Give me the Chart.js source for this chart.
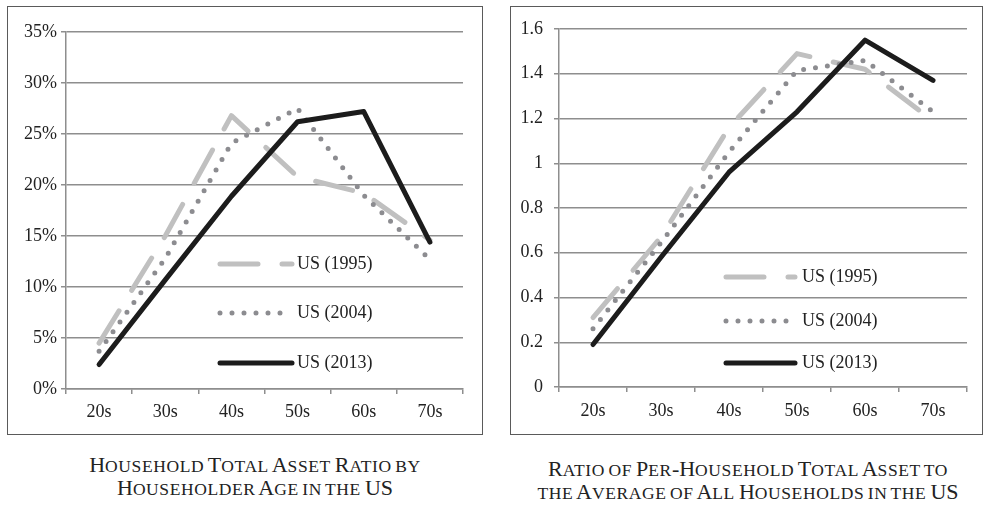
<!DOCTYPE html>
<html>
<head>
<meta charset="utf-8">
<script src="https://cdn.jsdelivr.net/npm/chart.js@4.4.1/dist/chart.umd.min.js"></script>
<style>
  html, body { margin: 0; padding: 0; background: #fff; }
  body { width: 986px; height: 505px; position: relative; overflow: hidden; }
  canvas { position: absolute; }
  .box { position: absolute; box-sizing: border-box; border: 1px solid #5a5a5a; pointer-events: none; }
  .caption {
    position: absolute; width: 500px; text-align: center; white-space: nowrap;
    font-family: "Liberation Serif", serif; font-size: 22px; line-height: 23px; color: #222;
    word-spacing: -1.5px;
  }
  /* small capitals, a little wider than scaled capitals like a real SC face */
  .sc { font-size: 17.5px; line-height: 1; text-transform: uppercase; letter-spacing: 0.6px; }
</style>
</head>
<body>
<canvas id="left" width="476" height="429" style="left:7px;top:6px"></canvas>
<div class="box" style="left:7px;top:6px;width:476px;height:429px"></div>
<canvas id="right" width="472" height="429" style="left:510px;top:6px"></canvas>
<div class="box" style="left:510px;top:6px;width:473px;height:429px"></div>

<div class="caption" style="left:5px;top:453px">H<span class="sc">ousehold</span> T<span class="sc">otal</span> A<span class="sc">sset</span> R<span class="sc">atio by</span><br>H<span class="sc">ouseholder</span> A<span class="sc">ge in the</span> US</div>
<div class="caption" style="left:498px;top:457px">R<span class="sc">atio of</span> P<span class="sc">er</span>-H<span class="sc">ousehold</span> T<span class="sc">otal</span> A<span class="sc">sset to</span><br><span class="sc">the</span> A<span class="sc">verage of</span> A<span class="sc">ll</span> H<span class="sc">ouseholds in the</span> US</div>

<script>
const ageGroups = ['20s', '30s', '40s', '50s', '60s', '70s'];
const seriesNames = ['US (1995)', 'US (2004)', 'US (2013)'];

// left chart: share of total assets held, %
const shareUS1995 = [4.5, 15.0, 26.8, 20.8, 19.2, 14.6];
const shareUS2004 = [3.7, 12.8, 24.1, 27.5, 19.0, 12.7];
const shareUS2013 = [2.4, 10.7, 18.9, 26.2, 27.2, 14.4];

// right chart: per-household assets relative to all-household average
const ratioUS1995 = [0.31, 0.67, 1.16, 1.49, 1.42, 1.19];
const ratioUS2004 = [0.26, 0.645, 1.05, 1.415, 1.46, 1.23];
const ratioUS2013 = [0.19, 0.58, 0.96, 1.23, 1.55, 1.37];

const serif = 'Liberation Serif';
const gridColor = '#8e8e8e';

const styles = [
  {borderColor: '#c0c0c0', borderWidth: 5, borderDash: [38, 24], order: 2},
  {borderColor: '#8c8c90', borderWidth: 5, borderDash: [0, 12], order: 1},
  {borderColor: '#1c1c1c', borderWidth: 5, borderDash: [], order: 0},
];

const makeDatasets = (seriesList) => seriesList.map((data, i) => ({
  label: seriesNames[i],
  data: data,
  ...styles[i],
  borderCapStyle: 'round',
  borderJoinStyle: 'round',
  pointRadius: 0,
  tension: 0,
  fill: false,
}));

// legend drawn inside the plot, Excel style
const innerLegend = {
  id: 'innerLegend',
  afterDatasetsDraw(chart, args, opts) {
    const ctx = chart.ctx;
    ctx.save();
    chart.data.datasets.forEach((ds, i) => {
      const y = opts.rows[i];
      ctx.beginPath();
      ctx.strokeStyle = ds.borderColor;
      ctx.lineWidth = ds.borderWidth;
      ctx.lineCap = 'round';
      ctx.setLineDash(ds.borderDash);
      ctx.moveTo(opts.x0, y);
      ctx.lineTo(opts.x1, y);
      ctx.stroke();
      ctx.setLineDash([]);
      ctx.fillStyle = '#222';
      ctx.font = `18px "${serif}"`;
      ctx.textBaseline = 'middle';
      ctx.textAlign = 'left';
      ctx.fillText(ds.label, opts.tx, y);
    });
    ctx.restore();
  }
};

const makeChart = (id, seriesList, yOpts, box) => new Chart(document.getElementById(id), {
  type: 'line',
  data: {labels: ageGroups, datasets: makeDatasets(seriesList)},
  plugins: [innerLegend],
  options: {
    responsive: false,
    animation: false,
    layout: {padding: {top: box.top, right: box.right, left: 0, bottom: 0}},
    scales: {
      x: {
        offset: true,
        grid: {offset: true, drawOnChartArea: false, drawTicks: true, tickLength: 5, color: gridColor, lineWidth: 1.5},
        border: {display: true, color: gridColor, width: 1.5},
        ticks: {color: '#222', font: {family: serif, size: 18}, padding: box.xPad, maxRotation: 0},
        afterFit: s => { s.height = box.xHeight; },
      },
      y: {
        min: yOpts.min,
        max: yOpts.max,
        grid: {color: gridColor, lineWidth: 1.5, tickLength: 5},
        border: {display: true, color: gridColor, width: 1.5},
        ticks: {stepSize: yOpts.step, color: '#222', font: {family: serif, size: 18}, padding: box.yPad, callback: yOpts.format},
        afterFit: s => { s.width = box.yWidth; },
      },
    },
    plugins: {
      legend: {display: false},
      tooltip: {enabled: false},
      innerLegend: box.legend,
    },
  },
});

makeChart('left', [shareUS1995, shareUS2004, shareUS2013],
  {min: 0, max: 35, step: 5, format: v => v + '%'},
  {top: 26, right: 20, yWidth: 59, xHeight: 46, xPad: 7, yPad: 4,
   legend: {x0: 213, x1: 285, tx: 290, rows: [258, 307, 357]}});

makeChart('right', [ratioUS1995, ratioUS2004, ratioUS2013],
  {min: 0, max: 1.6, step: 0.2, format: v => String(+v.toFixed(1))},
  {top: 23, right: 15, yWidth: 49, xHeight: 48, xPad: 8.5, yPad: 11,
   legend: {x0: 216, x1: 285, tx: 292, rows: [271, 315, 357]}});
</script>
</body>
</html>
